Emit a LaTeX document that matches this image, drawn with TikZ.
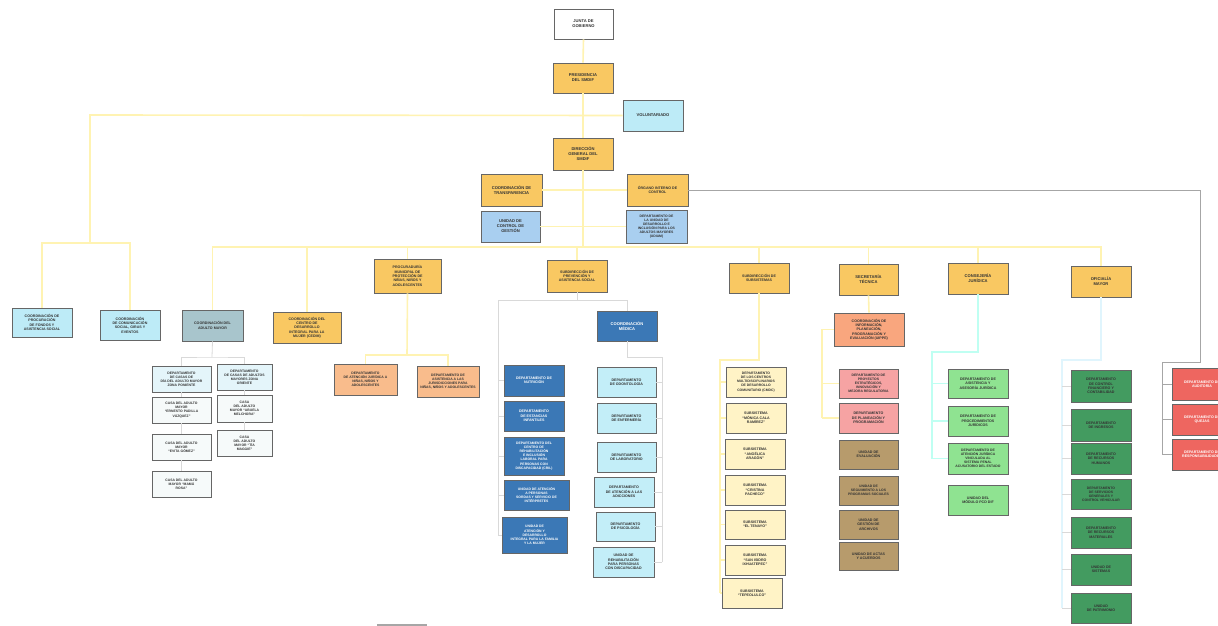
\documentclass[tikz,border=0pt]{standalone}
\usepackage{fontspec}
\newfontfamily\boxfont{Liberation Sans}
\definecolor{cOr}{HTML}{F9C862}
\definecolor{cLb}{HTML}{BDEBF7}
\definecolor{cBl}{HTML}{A9CFF0}
\definecolor{cGb}{HTML}{A8C5CC}
\definecolor{cDb}{HTML}{3B78B6}
\definecolor{cCy}{HTML}{C3EEF8}
\definecolor{cPy}{HTML}{FFF3C6}
\definecolor{cSa}{HTML}{F9A67E}
\definecolor{cPk}{HTML}{F6A3A3}
\definecolor{cBr}{HTML}{B79B6C}
\definecolor{cLg}{HTML}{8FE391}
\definecolor{cDg}{HTML}{439B60}
\definecolor{cRd}{HTML}{EE6660}
\definecolor{cPo}{HTML}{F9BC8C}
\definecolor{cAm}{HTML}{E4F5FA}
\definecolor{cAw}{HTML}{F6FAFA}
\definecolor{cLine}{HTML}{FFF3B2}
\newcommand\ob[7]{\node[box,#1,minimum width=#5pt,minimum height=#6pt] (#2) at (#3,#4) {#7};}
\begin{document}
\begin{tikzpicture}[x=1pt,y=-1pt,
  box/.style={draw=black!60, line width=0.6pt, align=center, inner sep=0.5pt,
    font=\boxfont\bfseries\fontsize{4.1}{4.9}\selectfont, text=black!80},
  sm/.style={font=\boxfont\bfseries\fontsize{3.6}{4.3}\selectfont},
  xs/.style={font=\boxfont\bfseries\fontsize{3.4}{4.1}\selectfont},
  conn/.style={draw=cLine, line width=1.6pt},
  connG/.style={draw=black!35, line width=0.8pt},
  connL/.style={draw=black!15, line width=0.8pt},
  connJ/.style={draw=green!20!cyan!25, line width=1.2pt},
  connO/.style={draw=cyan!12, line width=1.4pt},
  wt/.style={text=white}]
\useasboundingbox (0,0) rectangle (1218,626);
\fill[white] (0,0) rectangle (1218,626);

% ---------- coordinates for bends ----------
\coordinate (lb) at (90,115);
\coordinate (lb2) at (90,243);
\coordinate (bus) at (583,247);
\coordinate (r1) at (1200,190);
\coordinate (r2) at (1200,362);
\coordinate (r3) at (1162,362);
\coordinate (r4) at (1162,455);
\coordinate (p1) at (407,355);
\coordinate (a1) at (212,357);
\coordinate (s1) at (577,300);
\coordinate (s2) at (498,300);
\coordinate (s3) at (498,535);
\coordinate (c1) at (627,357);
\coordinate (c2) at (662,357);
\coordinate (c3) at (662,562);
\coordinate (u1) at (759,360);
\coordinate (u2) at (720,360);
\coordinate (u3) at (720,593);
\coordinate (e1) at (822,329.5);
\coordinate (e2) at (822,418);
\coordinate (j1) at (978,352);
\coordinate (j2) at (932,352);
\coordinate (j3) at (932,458.5);
\coordinate (o1) at (1101,360);
\coordinate (o2) at (1062,360);
\coordinate (o3) at (1062,608);

% ---------- top ----------
\ob{fill=white}{junta}{583.5}{24}{59}{30}{JUNTA DE\\GOBIERNO}
\ob{fill=cOr}{pres}{583}{78}{60}{30}{PRESIDENCIA\\DEL SMDIF}
\ob{fill=cLb}{vol}{653}{115.5}{60}{31}{VOLUNTARIADO}
\ob{fill=cOr}{dg}{583}{154}{60}{32}{DIRECCIÓN\\GENERAL DEL\\SMDIF}
\ob{fill=cOr}{transp}{511.5}{190}{61}{32}{COORDINACIÓN DE\\TRANSPARENCIA}
\ob{fill=cOr,sm}{oic}{657.5}{190}{61}{32}{ÓRGANO INTERNO DE\\CONTROL}
\ob{fill=cBl}{ucg}{510.5}{226.5}{59}{31}{UNIDAD DE\\CONTROL DE\\GESTIÓN}
\ob{fill=cBl,xs}{dudam}{656.5}{226.5}{61}{33}{DEPARTAMENTO DE\\LA UNIDAD DE\\DESARROLLO E\\INCLUSIÓN PARA LOS\\ADULTOS MAYORES\\(UDIAM)}

% ---------- second level ----------
\ob{fill=cLb,sm}{proc}{42}{322.5}{60}{29}{COORDINACIÓN DE\\PROCURACIÓN\\DE FONDOS Y\\ASISTENCIA SOCIAL}
\ob{fill=cLb,sm}{comsoc}{130}{325}{60}{30}{COORDINACIÓN\\DE COMUNICACIÓN\\SOCIAL, GIRAS Y\\EVENTOS}
\ob{fill=cGb,sm}{adulto}{212.5}{325.5}{61}{31}{COORDINACIÓN DEL\\ADULTO MAYOR}
\ob{fill=cOr,sm}{cedim}{307}{327.5}{68}{31}{COORDINACIÓN DEL\\CENTRO DE\\DESARROLLO\\INTEGRAL PARA LA\\MUJER (CEDIM)}
\ob{fill=cOr,sm}{pmpnna}{407.5}{276}{67}{34}{PROCURADURÍA\\MUNICIPAL DE\\PROTECCIÓN DE\\NIÑAS, NIÑOS Y\\ADOLESCENTES}
\ob{fill=cOr,sm}{sprev}{577}{276}{60}{32}{SUBDIRECCIÓN DE\\PREVENCIÓN Y\\ASISTENCIA SOCIAL}
\ob{fill=cOr,sm}{ssub}{759}{278}{60}{30}{SUBDIRECCIÓN DE\\SUBSISTEMAS}
\ob{fill=cOr}{stec}{868.5}{279.5}{59}{31}{SECRETARÍA\\TÉCNICA}
\ob{fill=cOr}{cj}{978}{278.5}{60}{31}{CONSEJERÍA\\JURÍDICA}
\ob{fill=cOr}{om}{1101}{281.5}{60}{31}{OFICIALÍA\\MAYOR}

% ---------- adulto mayor ----------
\ob{fill=cAm,xs}{am1}{181.5}{379}{59}{26}{DEPARTAMENTO\\DE CASAS DE\\DÍA DEL ADULTO MAYOR\\ZONA PONIENTE}
\ob{fill=cAw,xs}{am2}{181.5}{410}{59}{26}{CASA DEL ADULTO\\MAYOR\\“ERNESTO PADILLA\\VÁZQUEZ”}
\ob{fill=cAw,xs}{am3}{181.5}{447}{59}{26}{CASA DEL ADULTO\\MAYOR\\“EVITA GÓMEZ”}
\ob{fill=cAw,xs}{am4}{181.5}{484}{59}{26}{CASA DEL ADULTO\\MAYOR “MAMÁ\\ROSA”}
\ob{fill=cAm,xs}{am5}{244.5}{377}{55}{26}{DEPARTAMENTO\\DE CASAS DE ADULTOS\\MAYORES ZONA\\ORIENTE}
\ob{fill=cAw,xs}{am6}{244.5}{408.5}{55}{27}{CASA\\DEL ADULTO\\MAYOR “ABUELA\\MELCHORA”}
\ob{fill=cAw,xs}{am7}{244.5}{443}{55}{26}{CASA\\DEL ADULTO\\MAYOR “TÍA\\MAGGIE”}

% ---------- procuraduria ----------
\ob{fill=cPo,xs}{pn1}{365.5}{379.5}{63}{31}{DEPARTAMENTO\\DE ATENCIÓN JURÍDICA A\\NIÑAS, NIÑOS Y\\ADOLESCENTES}
\ob{fill=cPo,xs}{pn2}{448}{381.5}{62}{31}{DEPARTAMENTO DE\\ASISTENCIA A LAS\\JURISDICCIONES PARA\\NIÑAS, NIÑOS Y ADOLESCENTES}

% ---------- prevencion y asistencia ----------
\ob{fill=cDb,wt}{cm}{627}{326}{60}{30}{COORDINACIÓN\\MÉDICA}
\ob{fill=cDb,wt,sm}{pa1}{534}{380.5}{60}{31}{DEPARTAMENTO DE\\NUTRICIÓN}
\ob{fill=cDb,wt,sm}{pa2}{534}{416}{60}{30}{DEPARTAMENTO\\DE ESTANCIAS\\INFANTILES}
\ob{fill=cDb,wt,xs}{pa3}{534}{456}{60}{38}{DEPARTAMENTO DEL\\CENTRO DE\\REHABILITACIÓN\\E INCLUSIÓN\\LABORAL PARA\\PERSONAS CON\\DISCAPACIDAD (CRIL)}
\ob{fill=cDb,wt,xs}{pa4}{536.5}{495}{65}{30}{UNIDAD DE ATENCIÓN\\A PERSONAS\\SORDAS Y SERVICIO DE\\INTÉRPRETES}
\ob{fill=cDb,wt,xs}{pa5}{534.5}{535}{65}{36}{UNIDAD DE\\ATENCIÓN Y\\DESARROLLO\\INTEGRAL PARA LA FAMILIA\\Y LA MUJER}
\ob{fill=cCy,sm}{pb1}{626.5}{382}{59}{30}{DEPARTAMENTO\\DE ODONTOLOGÍA}
\ob{fill=cCy,sm}{pb2}{626.5}{418}{59}{30}{DEPARTAMENTO\\DE ENFERMERÍA}
\ob{fill=cCy,sm}{pb3}{626.5}{457}{59}{30}{DEPARTAMENTO\\DE LABORATORIO}
\ob{fill=cCy,sm}{pb4}{624}{492}{60}{30}{DEPARTAMENTO\\DE ATENCIÓN A LAS\\ADICCIONES}
\ob{fill=cCy,sm}{pb5}{625.5}{526.5}{59}{29}{DEPARTAMENTO\\DE PSICOLOGÍA}
\ob{fill=cCy,sm}{pb6}{623.5}{562}{61}{30}{UNIDAD DE\\REHABILITACIÓN\\PARA PERSONAS\\CON DISCAPACIDAD}

% ---------- subsistemas ----------
\ob{fill=cPy,xs}{ss1}{756}{382}{60}{30}{DEPARTAMENTO\\DE LOS CENTROS\\MULTIDISCIPLINARIOS\\DE DESARROLLO\\COMUNITARIO (CMDC)}
\ob{fill=cPy,sm}{ss2}{756}{418}{60}{30}{SUBSISTEMA\\“MÓNICA CALA\\RAMÍREZ”}
\ob{fill=cPy,sm}{ss3}{755}{454}{60}{30}{SUBSISTEMA\\“ANGÉLICA\\ARAGÓN”}
\ob{fill=cPy,sm}{ss4}{755}{490}{60}{30}{SUBSISTEMA\\“CRISTINA\\PACHECO”}
\ob{fill=cPy,sm}{ss5}{755}{524.5}{60}{29}{SUBSISTEMA\\“EL TENAYO”}
\ob{fill=cPy,sm}{ss6}{755}{560}{60}{30}{SUBSISTEMA\\“SAN ISIDRO\\IXHUATEPEC”}
\ob{fill=cPy,sm}{ss7}{752}{593}{60}{30}{SUBSISTEMA\\“TEPEOLULCO”}

% ---------- secretaria tecnica ----------
\ob{fill=cSa,sm}{uippe}{869}{329.5}{70}{33}{COORDINACIÓN DE\\INFORMACIÓN,\\PLANEACIÓN,\\PROGRAMACIÓN Y\\EVALUACIÓN (UIPPE)}
\ob{fill=cPk,xs}{st1}{868.5}{383.5}{59}{29}{DEPARTAMENTO DE\\PROYECTOS\\ESTRATÉGICOS,\\INNOVACIÓN Y\\MEJORA REGULATORIA}
\ob{fill=cPk,sm}{st2}{868.5}{418}{59}{30}{DEPARTAMENTO\\DE PLANEACIÓN Y\\PROGRAMACIÓN}
\ob{fill=cBr,sm}{st3}{868.5}{454.5}{59}{29}{UNIDAD DE\\EVALUACIÓN}
\ob{fill=cBr,xs}{st4}{868.5}{490.5}{59}{29}{UNIDAD DE\\SEGUIMIENTO A LOS\\PROGRAMAS SOCIALES}
\ob{fill=cBr,sm}{st5}{868.5}{524.5}{59}{29}{UNIDAD DE\\GESTIÓN DE\\ARCHIVOS}
\ob{fill=cBr,sm}{st6}{868.5}{556}{59}{28}{UNIDAD DE ACTAS\\Y ACUERDOS}

% ---------- consejeria ----------
\ob{fill=cLg,sm}{cj1}{978}{383.5}{60}{29}{DEPARTAMENTO DE\\ASISTENCIA Y\\ASESORÍA JURÍDICA}
\ob{fill=cLg,sm}{cj2}{978}{421}{60}{30}{DEPARTAMENTO DE\\PROCEDIMIENTOS\\JURÍDICOS}
\ob{fill=cLg,xs}{cj3}{978}{458.5}{60}{31}{DEPARTAMENTO DE\\ATENCIÓN JURÍDICA\\VINCULADA AL\\SISTEMA PENAL\\ACUSATORIO DEL ESTADO}
\ob{fill=cLg,sm}{cj4}{978}{500}{60}{30}{UNIDAD DEL\\MÓDULO PCD DIF}

% ---------- oficialia mayor ----------
\ob{fill=cDg,sm}{om1}{1101}{386}{60}{32}{DEPARTAMENTO\\DE CONTROL\\FINANCIERO Y\\CONTABILIDAD}
\ob{fill=cDg,sm}{om2}{1101}{425}{60}{32}{DEPARTAMENTO\\DE INGRESOS}
\ob{fill=cDg,sm}{om3}{1101}{458.5}{60}{31}{DEPARTAMENTO\\DE RECURSOS\\HUMANOS}
\ob{fill=cDg,xs}{om4}{1101}{494}{60}{30}{DEPARTAMENTO\\DE SERVICIOS\\GENERALES Y\\CONTROL VEHICULAR}
\ob{fill=cDg,sm}{om5}{1101}{532.5}{60}{31}{DEPARTAMENTO\\DE RECURSOS\\MATERIALES}
\ob{fill=cDg,sm}{om6}{1101}{569.5}{60}{31}{UNIDAD DE\\SISTEMAS}
\ob{fill=cDg,sm}{om7}{1101}{608}{60}{30}{UNIDAD\\DE PATRIMONIO}

% ---------- red (cut at right edge, as in the reference) ----------
\ob{fill=cRd,wt,sm}{rd1}{1202}{384}{60}{32}{DEPARTAMENTO DE\\AUDITORÍA}
\ob{fill=cRd,wt,sm}{rd2}{1202}{419.5}{60}{31}{DEPARTAMENTO DE\\QUEJAS}
\ob{fill=cRd,wt,sm}{rd3}{1202}{454.5}{60}{31}{DEPARTAMENTO DE\\RESPONSABILIDADES}

% ---------- connectors ----------
\draw[conn] (junta.south) -- (pres.north);
\draw[conn] (pres.south) -- (dg.north);
\draw[conn] (vol.west) -- (lb) -- (lb2);
\draw[conn] (proc.north) |- (lb2) -| (comsoc.north);
\draw[conn] (dg.south) -- (bus);
\draw[conn] (transp.east) -- (oic.west);
\draw[conn] (ucg.east) -- (dudam.west);
\draw[conn] (adulto.north) |- (bus) -| (om.north);
\draw[conn] (cedim.north) -- (cedim.north |- bus);
\draw[conn] (pmpnna.north) -- (pmpnna.north |- bus);
\draw[conn] (sprev.north) -- (sprev.north |- bus);
\draw[conn] (ssub.north) -- (ssub.north |- bus);
\draw[conn] (stec.north) -- (stec.north |- bus);
\draw[conn] (cj.north) -- (cj.north |- bus);
% organo interno -> red boxes
\draw[connG] (oic.east) -- (r1) -- (r2) -- (r3) -- (r4);
\draw[connG] (r3 |- rd1.west) -- (rd1.west);
\draw[connG] (r3 |- rd2.west) -- (rd2.west);
\draw[connG] (r3 |- rd3.west) -- (rd3.west);
% procuraduria
\draw[conn] (pmpnna.south) -- (p1);
\draw[conn] (pn1.north) |- (p1) -| (pn2.north);
% adulto mayor
\draw[connL] (adulto.south) -- (a1);
\draw[connL] (am1.north) |- (a1) -| (am5.north);
\draw[connL] (am1.south) -- (am2.north);
\draw[connL] (am2.south) -- (am3.north);
\draw[connL] (am3.south) -- (am4.north);
\draw[connL] (am5.south) -- (am6.north);
\draw[connL] (am6.south) -- (am7.north);
% prevencion
\draw[connL] (sprev.south) -- (s1);
\draw[connL] (cm.north) |- (s2) -- (s3);
\foreach \k in {pa1,pa2,pa3,pa4,pa5}{
  \draw[connL] (s2 |- \k.west) -- (\k.west);
}
\draw[connL] (cm.south) -- (c1) -- (c2) -- (c3);
\foreach \k in {pb1,pb2,pb3,pb4,pb5,pb6}{
  \draw[connL] (c2 |- \k.east) -- (\k.east);
}
% subsistemas
\draw[conn] (ssub.south) -- (u1) -- (u2) -- (u3);
\foreach \k in {ss1,ss2,ss3,ss4,ss5,ss6,ss7}{
  \draw[conn] (u2 |- \k.west) -- (\k.west);
}
% secretaria tecnica
\draw[conn] (stec.south) -- (uippe.north);
\draw[conn] (uippe.west) -- (e1) -- (e2);
\draw[conn] (e1 |- st1.west) -- (st1.west);
\draw[conn] (e1 |- st2.west) -- (st2.west);
% consejeria
\draw[connJ] (cj.south) -- (j1) -- (j2) -- (j3);
\foreach \k in {cj1,cj2,cj3}{
  \draw[connJ] (j2 |- \k.west) -- (\k.west);
}
% oficialia mayor
\draw[connO] (om.south) -- (o1) -- (o2) -- (o3);
\foreach \k in {om1,om2,om3,om4,om5,om6,om7}{
  \draw[connL] (o2 |- \k.west) -- (\k.west);
}
% small grey bar at the bottom edge
\draw[black!35, line width=1.2pt] (377,625) -- (427,625);
\end{tikzpicture}
\end{document}
